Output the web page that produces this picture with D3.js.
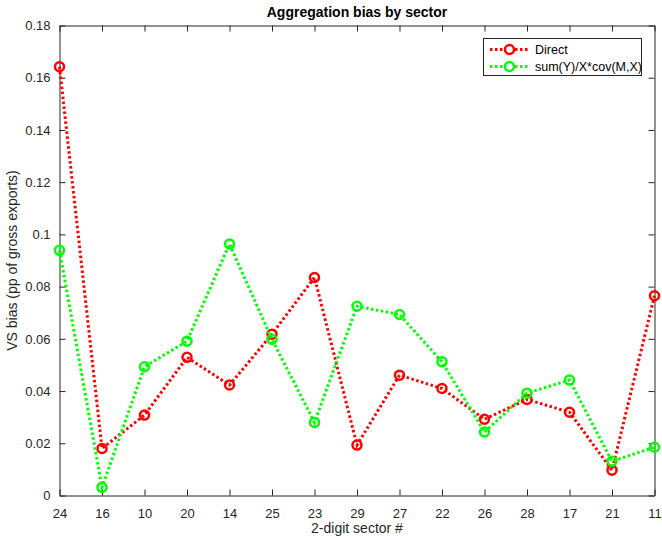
<!DOCTYPE html>
<html>
<head>
<meta charset="utf-8">
<script src="https://cdn.jsdelivr.net/npm/d3@7"></script>
<style>
  body { margin: 0; background: #fff; }
  svg { font-family: "Liberation Sans", Arial, sans-serif; }
</style>
</head>
<body>
<svg id="chart" width="662" height="540"></svg>
<script>
// sector codes along the x axis, in plot order
var sectors = ["24", "16", "10", "20", "14", "25", "23", "29", "27", "22", "26", "28", "17", "21", "11"];

// aggregation bias values
var direct = [0.1642, 0.0180, 0.0308, 0.0529, 0.0423, 0.0618, 0.0835, 0.0193, 0.0461, 0.0410, 0.0292, 0.0368, 0.0319, 0.0097, 0.0765];
var covTerm = [0.0939, 0.0031, 0.0493, 0.0591, 0.0963, 0.0598, 0.0280, 0.0725, 0.0693, 0.0512, 0.0243, 0.0392, 0.0442, 0.0131, 0.0185];

var yTicks = [0, 0.02, 0.04, 0.06, 0.08, 0.1, 0.12, 0.14, 0.16, 0.18];

var seriesNames = ["Direct", "sum(Y)/X*cov(M,X)"];
var seriesColors = ["#ff0000", "#00ff00"];

(function() {
  var series = [
    { name: seriesNames[0], values: direct, color: seriesColors[0] },
    { name: seriesNames[1], values: covTerm, color: seriesColors[1] }
  ];

  // plot box edges (window.top is reserved, so prefix these)
  var plotLeft = 59.5, plotRight = 654.5, plotTop = 25.5, plotBottom = 495.5;
  var axisColor = "#262626";

  var svg = d3.select("#chart");

  var x = d3.scalePoint()
    .domain(sectors)
    .range([plotLeft, plotRight]);

  var y = d3.scaleLinear()
    .domain([0, 0.18])
    .range([plotBottom, plotTop]);

  // y tick labels: drop trailing zeros like matlab does
  var fmt = function(d) { return d === 0 ? "0" : String(+d.toFixed(2)); };

  function styleAxis(g) {
    g.select(".domain").attr("stroke", axisColor);
    g.selectAll(".tick line").attr("stroke", axisColor);
    g.selectAll("text").attr("fill", axisColor).style("font-size", "13px");
  }

  // bottom + top axes, ticks pointing inward
  svg.append("g")
    .attr("transform", "translate(0," + plotBottom + ")")
    .call(d3.axisBottom(x).tickSizeInner(-6).tickSizeOuter(0).tickPadding(13))
    .call(styleAxis);

  svg.append("g")
    .attr("transform", "translate(0," + plotTop + ")")
    .call(d3.axisTop(x).tickSizeInner(-6).tickSizeOuter(0).tickFormat(""))
    .call(styleAxis);

  // left + right axes
  svg.append("g")
    .attr("transform", "translate(" + plotLeft + ",0)")
    .call(d3.axisLeft(y).tickValues(yTicks).tickFormat(fmt).tickSizeInner(-6).tickSizeOuter(0).tickPadding(9))
    .call(styleAxis);

  svg.append("g")
    .attr("transform", "translate(" + plotRight + ",0)")
    .call(d3.axisRight(y).tickValues(yTicks).tickFormat("").tickSizeInner(-6).tickSizeOuter(0))
    .call(styleAxis);

  // title and axis labels
  svg.append("text")
    .attr("x", (plotLeft + plotRight) / 2)
    .attr("y", 17)
    .attr("text-anchor", "middle")
    .style("font-size", "14px")
    .style("font-weight", "bold")
    .attr("fill", "#000")
    .text("Aggregation bias by sector");

  svg.append("text")
    .attr("x", (plotLeft + plotRight) / 2)
    .attr("y", 533)
    .attr("text-anchor", "middle")
    .style("font-size", "14px")
    .attr("fill", axisColor)
    .text("2-digit sector #");

  svg.append("text")
    .attr("transform", "translate(17," + (plotTop + plotBottom) / 2 + ") rotate(-90)")
    .attr("text-anchor", "middle")
    .style("font-size", "14px")
    .attr("fill", axisColor)
    .text("VS bias (pp of gross exports)");

  // dotted lines with circle markers
  var line = d3.line()
    .x(function(d, i) { return x(sectors[i]); })
    .y(function(d) { return y(d); });

  series.forEach(function(s) {
    var g = svg.append("g");

    g.append("path")
      .datum(s.values)
      .attr("d", line)
      .attr("fill", "none")
      .attr("stroke", s.color)
      .attr("stroke-width", 3)
      .attr("stroke-dasharray", "2.5,2.5");

    g.selectAll("circle")
      .data(s.values)
      .enter().append("circle")
      .attr("cx", function(d, i) { return x(sectors[i]); })
      .attr("cy", function(d) { return y(d); })
      .attr("r", 4.5)
      .attr("fill", "none")
      .attr("stroke", s.color)
      .attr("stroke-width", 2.5);
  });

  // legend box
  var legend = svg.append("g");

  legend.append("rect")
    .attr("x", 483.5)
    .attr("y", 38.5)
    .attr("width", 158)
    .attr("height", 37)
    .attr("fill", "#fff")
    .attr("stroke", axisColor)
    .attr("stroke-width", 1);

  series.forEach(function(s, i) {
    var ly = 49.5 + i * 17;
    legend.append("line")
      .attr("x1", 490).attr("x2", 529)
      .attr("y1", ly).attr("y2", ly)
      .attr("stroke", s.color)
      .attr("stroke-width", 3)
      .attr("stroke-dasharray", "2.5,2.5");
    legend.append("circle")
      .attr("cx", 509.5).attr("cy", ly)
      .attr("r", 4.5)
      .attr("fill", "#fff")
      .attr("stroke", s.color)
      .attr("stroke-width", 2.5);
    legend.append("text")
      .attr("x", 535)
      .attr("y", ly + 4.5)
      .style("font-size", "12.5px")
      .attr("fill", "#000")
      .text(s.name);
  });
})();
</script>
</body>
</html>
